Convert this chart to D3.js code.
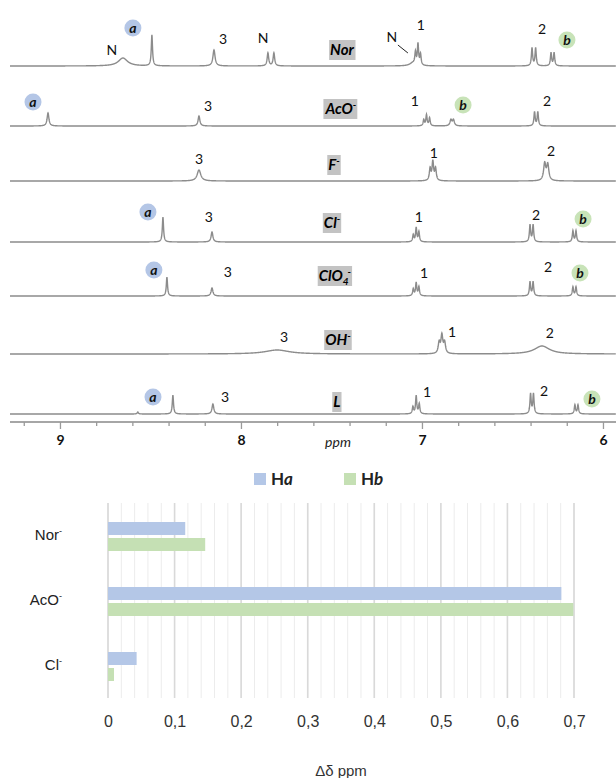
<!DOCTYPE html>
<html>
<head>
<meta charset="utf-8">
<script src="https://cdn.jsdelivr.net/npm/d3@7"></script>
<style>
	body { margin: 0; background: #fff; }
	svg { display: block; }
</style>
</head>
<body>
<div id="chart"></div>
<script>
// ----------------------------------
// DATA
// ----------------------------------

// 1H NMR traces, top to bottom. Peaks are [ppm, intensity, half width in ppm]
const traceNames = ["Nor", "AcO", "F", "Cl", "ClO4", "OH", "L"];

const norPeaks = [[8.652, 8, 0.03], [8.492, 31, 0.004], [8.149, 16, 0.007], [7.851, 13, 0.005], [7.818, 13, 0.005],
	[7.05, 3, 0.02], [7.036, 12, 0.004], [7.022, 21, 0.004], [7.008, 11, 0.004],
	[6.392, 18, 0.004], [6.372, 18, 0.004], [6.287, 13, 0.004], [6.270, 13, 0.004]];
const acoPeaks = [[9.066, 13, 0.006], [8.232, 10, 0.006], [6.99, 6, 0.004], [6.975, 11, 0.004], [6.958, 8, 0.004],
	[6.840, 6, 0.006], [6.826, 6, 0.006], [6.378, 14, 0.004], [6.360, 14, 0.004]];
const fPeaks = [[8.232, 11, 0.012], [6.955, 12, 0.005], [6.94, 19, 0.005], [6.925, 12, 0.005],
	[6.322, 17, 0.007], [6.305, 16, 0.007]];
const clPeaks = [[8.431, 25, 0.004], [8.16, 10, 0.006], [7.048, 7, 0.004], [7.032, 14, 0.004], [7.017, 10, 0.004],
	[6.403, 17, 0.004], [6.386, 17, 0.004], [6.166, 11, 0.004], [6.149, 11, 0.004]];
const clo4Peaks = [[8.409, 19, 0.004], [8.16, 8, 0.006], [7.048, 7, 0.004], [7.032, 13, 0.004], [7.017, 9, 0.004],
	[6.403, 14, 0.004], [6.386, 14, 0.004], [6.166, 9, 0.004], [6.149, 9, 0.004]];
const ohPeaks = [[7.80, 4, 0.08], [6.905, 11, 0.006], [6.89, 18, 0.006], [6.875, 11, 0.006], [6.337, 8, 0.05]];
const lPeaks = [[8.57, 2, 0.004], [8.376, 19, 0.004], [8.155, 10, 0.006], [7.05, 7, 0.004], [7.032, 18, 0.004], [7.015, 10, 0.004],
	[6.40, 20, 0.004], [6.384, 20, 0.004], [6.155, 9, 0.004], [6.138, 9, 0.004]];

// signal labels: [text, ppm, height above baseline]
const norLabels = [["N", 8.713, 16], ["a", 8.597, 38], ["3", 8.099, 27], ["N", 7.878, 28], ["N", 7.166, 29], ["1", 7.006, 41], ["2", 6.337, 37], ["b", 6.199, 26]];
const acoLabels = [["a", 9.149, 24], ["3", 8.182, 20], ["1", 7.039, 25], ["b", 6.773, 21], ["2", 6.309, 25]];
const fLabels = [["3", 8.232, 22], ["1", 6.934, 28], ["2", 6.287, 30]];
const clLabels = [["a", 8.514, 30], ["3", 8.177, 25], ["1", 7.017, 25], ["2", 6.370, 27], ["b", 6.110, 23]];
const clo4Labels = [["a", 8.481, 26], ["3", 8.072, 24], ["1", 6.989, 23], ["2", 6.304, 29], ["b", 6.127, 23]];
const ohLabels = [["3", 7.762, 17], ["1", 6.834, 22], ["2", 6.293, 21]];
const lLabels = [["a", 8.486, 17], ["3", 8.088, 17], ["1", 6.972, 22], ["2", 6.326, 23], ["b", 6.061, 15]];

// name tag of each trace: [ppm, height above baseline]
const tagSpots = [[7.442, 16], [7.448, 17], [7.486, 16], [7.497, 19], [7.481, 20], [7.464, 14], [7.470, 12]];

const ppmTicks = [9, 8, 7, 6];

// bar chart: chemical shift change of Ha / Hb
const anions = ["Nor", "AcO", "Cl"];
const haShift = [0.116, 0.681, 0.043];
const hbShift = [0.146, 0.699, 0.009];
const shiftTicks = [0, 0.1, 0.2, 0.3, 0.4, 0.5, 0.6, 0.7];

// ----------------------------------
// LAYOUT
// ----------------------------------
const width = 616, height = 778;
const baselines = [66, 126, 181, 242, 296, 354, 414];
const allPeaks = [norPeaks, acoPeaks, fPeaks, clPeaks, clo4Peaks, ohPeaks, lPeaks];
const allLabels = [norLabels, acoLabels, fLabels, clLabels, clo4Labels, ohLabels, lLabels];

const labelFont = "Lato, 'Open Sans', sans-serif";
const barFont = "'Liberation Sans', Arial, sans-serif";
const blue = "#b4c7e7", green = "#c5e0b4";

const svg = d3.select("#chart").append("svg")
	.attr("width", width)
	.attr("height", height);

// ----------------------------------
// NMR STACK
// ----------------------------------
const xPpm = d3.scaleLinear().domain([9.276, 5.928]).range([10, 616]);
const yInt = d3.scaleLinear().domain([0, 40]).range([0, 40]);

const grid = d3.range(9.276, 5.928, -0.001);
const lorentz = (peaks, p) => d3.sum(peaks, d => d[1] * d[2] * d[2] / ((p - d[0]) * (p - d[0]) + d[2] * d[2]));

const nmr = svg.append("g").classed("nmr", true);

traceNames.forEach((name, i) => {
	const base = baselines[i];
	const line = d3.line()
		.x(p => xPpm(p))
		.y(p => base - yInt(lorentz(allPeaks[i], p)));

	nmr.append("path")
		.datum(grid)
		.attr("d", line)
		.style("fill", "none")
		.style("stroke", "#8c8c8c")
		.style("stroke-width", 1.4);

	// signal labels
	allLabels[i].forEach(l => {
		const x = xPpm(l[1]), y = base - yInt(l[2]);
		if (l[0] === "a" || l[0] === "b") {
			nmr.append("circle")
				.attr("cx", x).attr("cy", y).attr("r", 8.5)
				.style("fill", l[0] === "a" ? "#b4c6e6" : "#c8e3b8");
			nmr.append("text")
				.attr("x", x).attr("y", y)
				.attr("dy", "0.35em")
				.attr("text-anchor", "middle")
				.style("font-family", labelFont)
				.style("font-size", "14px")
				.style("font-weight", "bold")
				.style("font-style", "italic")
				.style("fill", "#111")
				.text(l[0]);
		} else {
			nmr.append("text")
				.attr("x", x).attr("y", y)
				.attr("dy", "0.35em")
				.attr("text-anchor", "middle")
				.style("font-family", labelFont)
				.style("font-size", "14px")
				.style("fill", "#111")
				.text(l[0]);
		}
	});

	// grey name tag
	const tag = nmr.append("g")
		.attr("transform", `translate(${xPpm(tagSpots[i][0])},${base - yInt(tagSpots[i][1])})`);
	const txt = tag.append("text")
		.attr("text-anchor", "middle")
		.attr("dy", "0.35em")
		.style("font-family", labelFont)
		.style("font-size", "15px")
		.style("font-weight", "bold")
		.style("font-style", "italic")
		.style("fill", "#000");
	if (name === "ClO4") {
		txt.append("tspan").text("ClO");
		txt.append("tspan").attr("dy", 4).style("font-size", "10px").text("4");
		txt.append("tspan").attr("dy", -10).attr("dx", -1).style("font-size", "10px").text("-");
	} else if (name === "Nor" || name === "L") {
		txt.append("tspan").text(name);
	} else {
		txt.append("tspan").text(name);
		txt.append("tspan").attr("dy", -6).style("font-size", "10px").text("-");
	}
	const bb = txt.node().getBBox();
	tag.insert("rect", "text")
		.attr("x", bb.x - 1).attr("y", -10)
		.attr("width", bb.width + 2).attr("height", 20)
		.style("fill", "#c3c3c3");
});

// leader line for the N shoulder under signal 1
const nx = xPpm(norLabels[4][1]), ny = baselines[0] - yInt(norLabels[4][2]);
nmr.append("line")
	.attr("x1", nx + 6).attr("y1", ny + 8)
	.attr("x2", nx + 16).attr("y2", ny + 16)
	.style("stroke", "#222")
	.style("stroke-width", 1);

// ppm axis
const axisY = 422;
nmr.append("line")
	.attr("x1", 10).attr("x2", 616)
	.attr("y1", axisY).attr("y2", axisY)
	.style("stroke", "#a6a6a6")
	.style("stroke-width", 2);

const minorAxis = d3.axisBottom(xPpm)
	.tickValues(d3.range(9.2, 5.95, -0.2).filter(v => Math.abs(v - Math.round(v)) > 0.01))
	.tickSize(4)
	.tickFormat("");
nmr.append("g")
	.attr("transform", `translate(0,${axisY})`)
	.call(minorAxis)
	.call(g => g.select(".domain").remove())
	.call(g => g.selectAll("line").style("stroke", "#9a9a9a").style("stroke-width", 1.3));

const majorAxis = d3.axisBottom(xPpm)
	.tickValues(ppmTicks)
	.tickSize(7)
	.tickPadding(6)
	.tickFormat(d3.format("d"));
nmr.append("g")
	.attr("transform", `translate(0,${axisY})`)
	.call(majorAxis)
	.call(g => g.select(".domain").remove())
	.call(g => g.selectAll("line").style("stroke", "#9a9a9a").style("stroke-width", 1.3))
	.call(g => g.selectAll("text")
		.style("font-family", labelFont)
		.style("font-size", "14px")
		.style("font-weight", "bold")
		.style("fill", "#111"));

nmr.append("text")
	.attr("x", 338).attr("y", 442)
	.attr("dy", "0.35em")
	.attr("text-anchor", "middle")
	.style("font-family", labelFont)
	.style("font-size", "14px")
	.style("font-style", "italic")
	.style("fill", "#222")
	.text("ppm");

// ----------------------------------
// LEGEND
// ----------------------------------
const legend = svg.append("g").classed("legend", true);
[["a", blue, 254], ["b", green, 344]].forEach(d => {
	legend.append("rect")
		.attr("x", d[2]).attr("y", 473)
		.attr("width", 12).attr("height", 12)
		.style("fill", d[1]);
	const t = legend.append("text")
		.attr("x", d[2] + 17).attr("y", 479)
		.attr("dy", "0.35em")
		.style("font-family", labelFont)
		.style("font-size", "17px")
		.style("font-weight", "bold")
		.style("fill", "#222");
	t.append("tspan").text("H");
	t.append("tspan").style("font-style", "italic").text(d[0]);
});

// ----------------------------------
// BAR CHART
// ----------------------------------
const bars = svg.append("g").classed("bars", true);
const xShift = d3.scaleLinear().domain([0, 0.7]).range([108, 574]);
const yCat = d3.scaleBand().domain(anions).range([503, 698]);
const ySer = d3.scaleBand().domain(["Ha", "Hb"]).range([1, yCat.bandwidth() + 1])
	.paddingInner(0.1875).paddingOuter(1.125);

// gridlines
bars.selectAll("line.minor")
	.data(d3.range(0, 0.7001, 0.02))
	.enter().append("line")
	.classed("minor", true)
	.attr("x1", d => xShift(d)).attr("x2", d => xShift(d))
	.attr("y1", 503).attr("y2", 698)
	.style("stroke", "#ececec")
	.style("stroke-width", 1);
bars.selectAll("line.major")
	.data(shiftTicks)
	.enter().append("line")
	.classed("major", true)
	.attr("x1", d => xShift(d)).attr("x2", d => xShift(d))
	.attr("y1", 503).attr("y2", 698)
	.style("stroke", "#d9d9d9")
	.style("stroke-width", 1.6);

const barRows = anions.map((a, i) => ({ a, Ha: haShift[i], Hb: hbShift[i] }));
const groups = bars.selectAll("g.group")
	.data(barRows)
	.enter().append("g")
	.classed("group", true)
	.attr("transform", d => `translate(0,${yCat(d.a)})`);

groups.selectAll("rect")
	.data(d => [["Ha", d.Ha], ["Hb", d.Hb]])
	.enter().append("rect")
	.attr("x", xShift(0))
	.attr("y", d => ySer(d[0]))
	.attr("width", d => xShift(d[1]) - xShift(0))
	.attr("height", ySer.bandwidth())
	.style("fill", d => d[0] === "Ha" ? blue : green);

// category labels
groups.append("text")
	.attr("x", 62)
	.attr("y", ySer("Hb") - 3)
	.attr("dy", "0.35em")
	.attr("text-anchor", "end")
	.style("font-family", barFont)
	.style("font-size", "15px")
	.style("fill", "#222")
	.call(t => {
		t.append("tspan").text(d => d.a);
		t.append("tspan").attr("dy", -6).style("font-size", "9px").text("-");
	});

// value axis
const shiftAxis = d3.axisBottom(xShift)
	.tickValues(shiftTicks)
	.tickSize(0)
	.tickPadding(18)
	.tickFormat(d => d3.format(".1f")(d).replace(".", ",").replace("0,0", "0"));
bars.append("g")
	.attr("transform", "translate(0,698)")
	.call(shiftAxis)
	.call(g => g.select(".domain").remove())
	.call(g => g.selectAll("text")
		.style("font-family", barFont)
		.style("font-size", "16px")
		.style("fill", "#333"));

bars.append("text")
	.attr("x", (xShift(0) + xShift(0.7)) / 2)
	.attr("y", 776)
	.attr("text-anchor", "middle")
	.style("font-family", barFont)
	.style("font-size", "15px")
	.style("fill", "#333")
	.text("Δδ ppm");
</script>
</body>
</html>
